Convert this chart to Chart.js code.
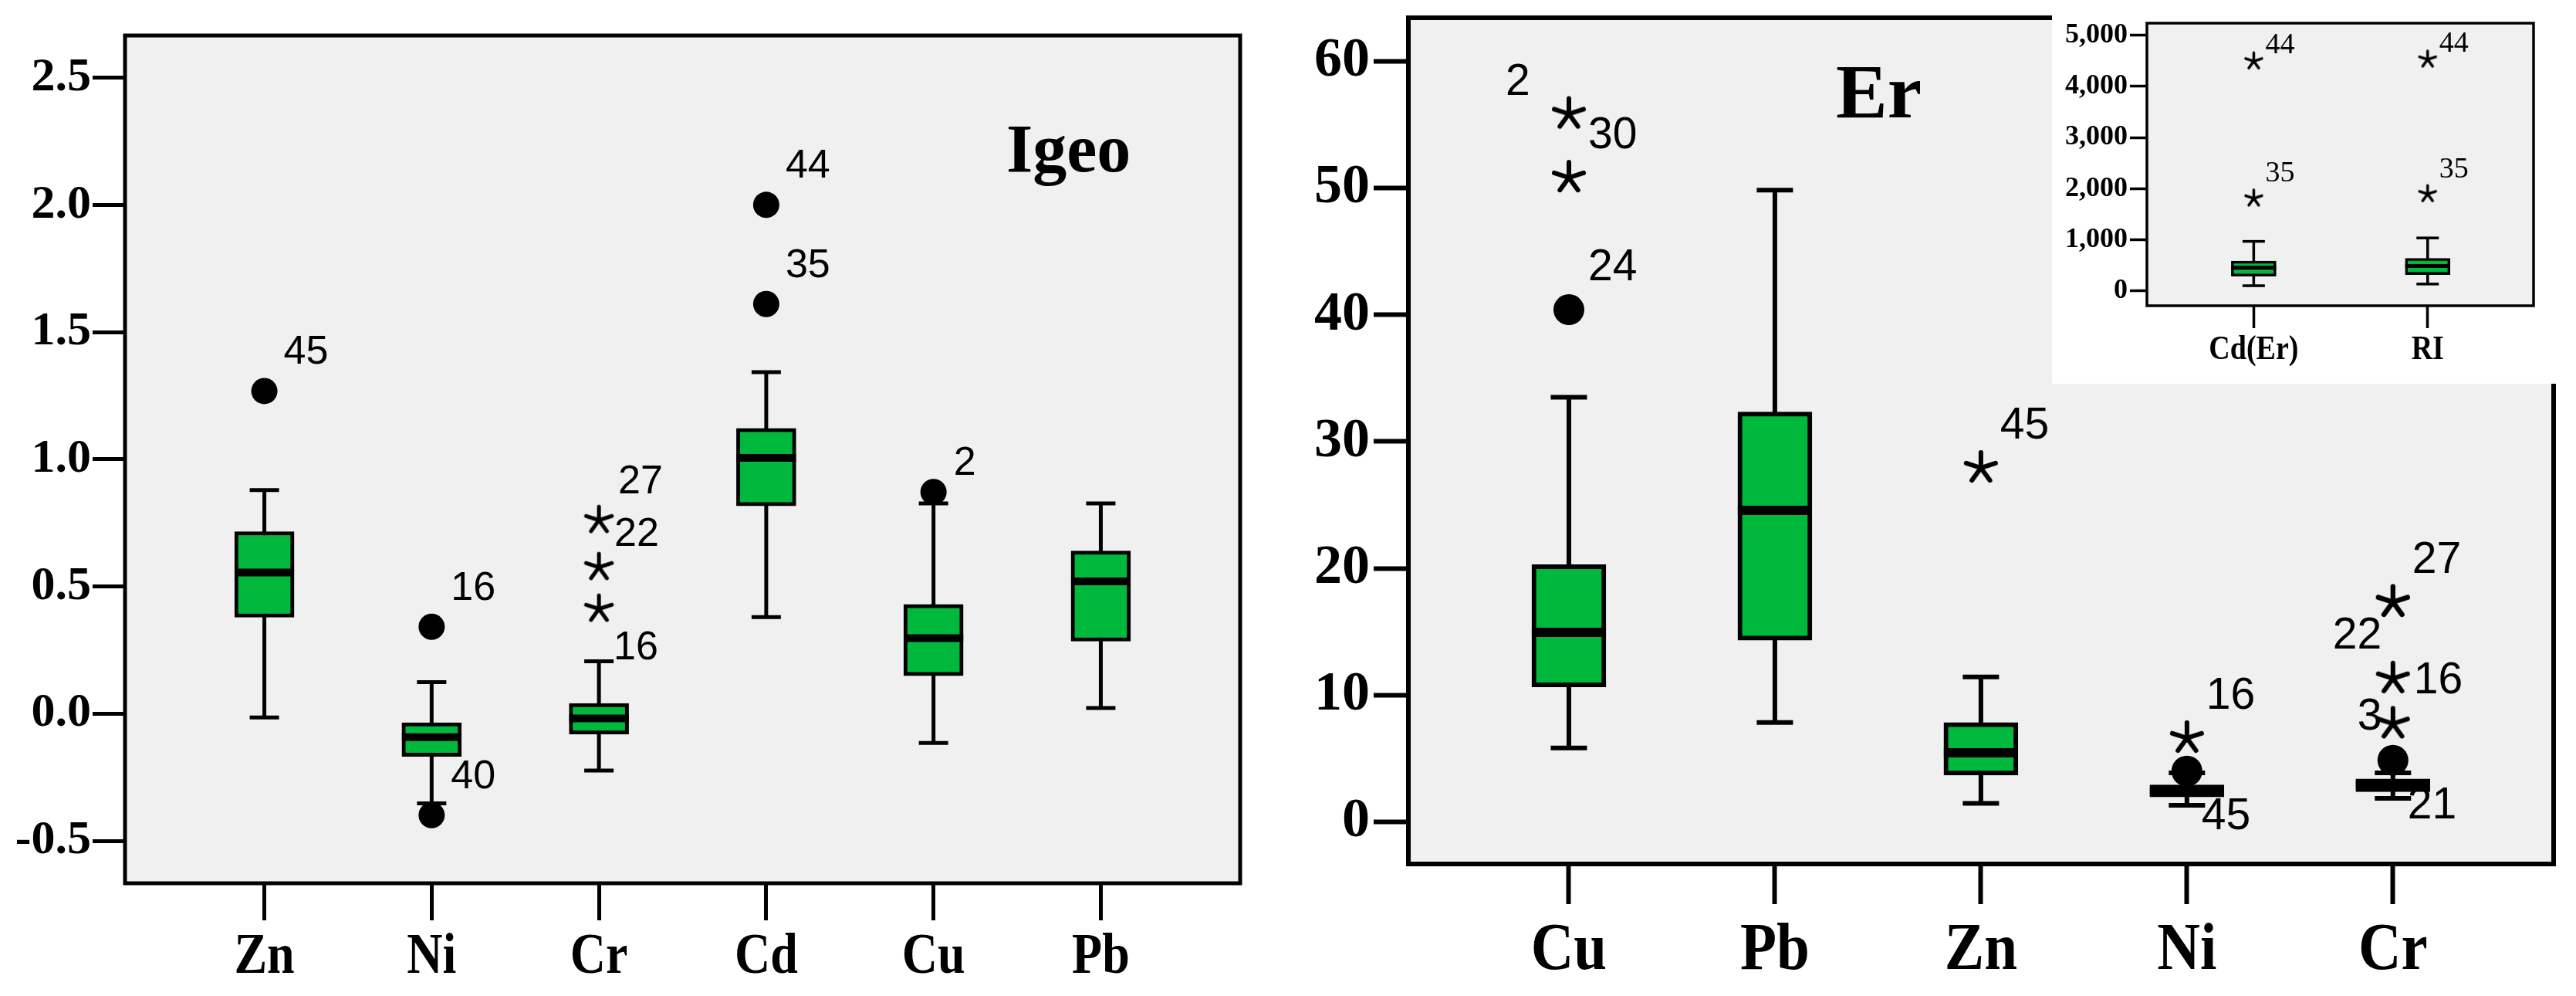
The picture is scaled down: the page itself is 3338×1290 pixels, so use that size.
<!DOCTYPE html>
<html>
<head>
<meta charset="utf-8">
<title>Igeo and Er box plots</title>
<script src="https://cdn.jsdelivr.net/npm/chart.js@4.4.1/dist/chart.umd.min.js"></script>
<style>
  html, body { margin: 0; padding: 0; background: #fff; }
  body { width: 3338px; height: 1290px; position: relative; overflow: hidden; }
  .panel { position: absolute; top: 0; }
  #igeoBox { left: 0; width: 1650px; height: 1290px; }
  #erBox { left: 1650px; width: 1688px; height: 1290px; }
  #insetBox { left: 2659px; width: 679px; height: 497px; background: #fff; }
</style>
</head>
<body>
<div class="panel" id="igeoBox"><canvas id="igeoChart"></canvas></div>
<div class="panel" id="erBox"><canvas id="erChart"></canvas></div>
<div class="panel" id="insetBox"><canvas id="insetChart"></canvas></div>
<script>
// ---- Igeo (left panel) ----
const igeoCats = ['Zn', 'Ni', 'Cr', 'Cd', 'Cu', 'Pb'];
const igeoMin = [-0.015, -0.353, -0.224, 0.380, -0.115, 0.022];
const igeoQ1 = [0.379, -0.168, -0.081, 0.817, 0.149, 0.285];
const igeoMedian = [0.555, -0.092, -0.019, 1.006, 0.297, 0.520];
const igeoQ3 = [0.716, -0.036, 0.040, 1.122, 0.430, 0.640];
const igeoMax = [0.879, 0.124, 0.206, 1.343, 0.827, 0.827];
const igeoCircles = [
  { cat: 'Zn', value: 1.269, id: '45' },
  { cat: 'Ni', value: 0.342, id: '16' },
  { cat: 'Ni', value: -0.399, id: '40' },
  { cat: 'Cd', value: 2.001, id: '44' },
  { cat: 'Cd', value: 1.611, id: '35' },
  { cat: 'Cu', value: 0.872, id: '2' }
];
const igeoStars = [
  { cat: 'Cr', value: 0.761, id: '27' },
  { cat: 'Cr', value: 0.576, id: '22' },
  { cat: 'Cr', value: 0.412, id: '16' }
];
const igeoTicks = [-0.5, 0, 0.5, 1.0, 1.5, 2.0, 2.5];
const igeoLimits = [-0.667, 2.667];

// ---- Er (right panel) ----
const erCats = ['Cu', 'Pb', 'Zn', 'Ni', 'Cr'];
const erMin = [5.82, 7.83, 1.44, 1.29, 1.84];
const erQ1 = [10.63, 14.33, 3.68, 1.95, 2.36];
const erMedian = [14.95, 24.58, 5.44, 2.40, 2.90];
const erQ3 = [20.29, 32.34, 7.82, 2.90, 3.38];
const erMax = [33.5, 49.85, 11.42, 3.85, 3.85];
const erCircles = [
  { cat: 'Cu', value: 40.42, id: '24' },
  { cat: 'Ni', value: 3.99, id: '45' },
  { cat: 'Cr', value: 4.85, id: '21' }
];
const erStars = [
  { cat: 'Cu', value: 55.87, id: '2' },
  { cat: 'Cu', value: 50.84, id: '30' },
  { cat: 'Zn', value: 27.93, id: '45' },
  { cat: 'Ni', value: 6.6, id: '16' },
  { cat: 'Cr', value: 17.34, id: '27' },
  { cat: 'Cr', value: 17.34, id: '22' },
  { cat: 'Cr', value: 11.3, id: '16' },
  { cat: 'Cr', value: 7.73, id: '3' }
];
const erTicks = [0, 10, 20, 30, 40, 50, 60];
const erLimits = [-3.34, 63.46];

// ---- Cd(Er) and RI (inset) ----
const insetCats = ['Cd(Er)', 'RI'];
const insetMin = [100, 133];
const insetQ1 = [286, 319];
const insetMedian = [452, 485];
const insetQ3 = [583, 636];
const insetMax = [968, 1035];
const insetCircles = [];
const insetStars = [
  { cat: 'Cd(Er)', value: 4495, id: '44' },
  { cat: 'Cd(Er)', value: 1810, id: '35' },
  { cat: 'RI', value: 4529, id: '44' },
  { cat: 'RI', value: 1896, id: '35' }
];
const insetTicks = [0, 1000, 2000, 3000, 4000, 5000];
const insetLimits = [-292, 5239];

const GREEN = '#00b83c';
const PANEL = '#f0f0f0';
const SERIF = '"Liberation Serif", "Times New Roman", serif';
const SANS = '"Liberation Sans", Arial, sans-serif';

Chart.defaults.color = '#000';

// five-armed asterisk like the SPSS extreme-value marker
function makeAsterisk(r, lw) {
  const c = document.createElement('canvas');
  const size = Math.ceil(2 * r + 2 * lw);
  c.width = size;
  c.height = size;
  const g = c.getContext('2d');
  g.strokeStyle = '#000';
  g.lineWidth = lw;
  g.lineCap = 'round';
  g.beginPath();
  for (let k = 0; k < 5; k++) {
    const a = -Math.PI / 2 + k * 2 * Math.PI / 5;
    g.moveTo(size / 2, size / 2);
    g.lineTo(size / 2 + r * Math.cos(a), size / 2 + r * Math.sin(a));
  }
  g.stroke();
  return c;
}

// grey panel, black frame, panel title and the (slightly tall) category labels
const framePlugin = {
  id: 'frame',
  beforeDraw(chart, args, opts) {
    const a = chart.chartArea;
    const ctx = chart.ctx;
    ctx.save();
    ctx.fillStyle = PANEL;
    ctx.fillRect(a.left, a.top, a.right - a.left, a.bottom - a.top);
    ctx.restore();
  },
  afterDraw(chart, args, opts) {
    const a = chart.chartArea;
    const ctx = chart.ctx;
    ctx.save();
    ctx.strokeStyle = '#000';
    ctx.lineWidth = opts.lineWidth;
    ctx.strokeRect(a.left, a.top, a.right - a.left, a.bottom - a.top);
    ctx.fillStyle = '#000';
    ctx.textBaseline = 'alphabetic';
    if (opts.title) {
      ctx.font = 'bold ' + opts.titleSize + 'px ' + SERIF;
      ctx.textAlign = 'left';
      ctx.fillText(opts.title, a.left + opts.titleDx, a.top + opts.titleDy);
    }
    const xs = chart.scales.x;
    ctx.font = 'bold ' + opts.catSize + 'px ' + SERIF;
    ctx.textAlign = 'center';
    xs.ticks.forEach((t, i) => {
      ctx.save();
      ctx.translate(xs.getPixelForValue(t.value), a.bottom + opts.catDy);
      ctx.scale(1, opts.catStretch);
      ctx.fillText(opts.cats[i], 0, 0);
      ctx.restore();
    });
    ctx.restore();
  }
};

const outlierLabels = {
  id: 'outlierLabels',
  afterDatasetsDraw(chart, args, opts) {
    const ctx = chart.ctx;
    ctx.save();
    ctx.font = opts.font;
    ctx.fillStyle = '#000';
    ctx.textAlign = 'left';
    ctx.textBaseline = 'alphabetic';
    chart.data.datasets.forEach((ds, di) => {
      if (!ds.ids) return;
      chart.getDatasetMeta(di).data.forEach((pt, j) => {
        const off = (opts.nudge || {})[ds.cats[j] + ':' + ds.ids[j]] || opts.offset;
        ctx.fillText(ds.ids[j], pt.x + off[0], pt.y + off[1]);
      });
    });
    ctx.restore();
  }
};

Chart.register(framePlugin, outlierLabels);

function makeBoxChart(canvasId, d, s) {
  const idx = c => d.cats.indexOf(c);
  const whiskers = [];
  d.cats.forEach((c, i) => {
    whiskers.push({ x: i, y: d.min[i] }, { x: i, y: d.max[i] }, { x: i, y: null });
  });
  const caps = [];
  d.cats.forEach((c, i) => {
    caps.push({ x: i, y: d.min[i] }, { x: i, y: d.max[i] });
  });
  const star = makeAsterisk(s.starR, s.starLw);

  const datasets = [
    {
      type: 'scatter', order: 1,
      data: d.circles.map(o => ({ x: idx(o.cat), y: o.value })),
      ids: d.circles.map(o => o.id), cats: d.circles.map(o => o.cat),
      pointStyle: 'circle', pointRadius: s.dotR,
      pointBackgroundColor: '#000', pointBorderColor: '#000', pointBorderWidth: 0
    },
    {
      type: 'scatter', order: 2,
      data: d.stars.map(o => ({ x: idx(o.cat), y: o.value })),
      ids: d.stars.map(o => o.id), cats: d.stars.map(o => o.cat),
      pointStyle: star, pointRadius: s.starR
    },
    {
      type: 'scatter', order: 3,
      data: d.cats.map((c, i) => ({ x: i, y: d.median[i] })),
      pointStyle: 'line', pointRadius: s.boxWidth / 2,
      pointBorderColor: '#000', pointBorderWidth: s.medianLw
    },
    {
      type: 'scatter', order: 4,
      data: caps,
      pointStyle: 'line', pointRadius: s.capHalf,
      pointBorderColor: '#000', pointBorderWidth: s.lineW
    },
    {
      type: 'bar', order: 5,
      data: d.cats.map((c, i) => ({ x: i, y: [d.q1[i], d.q3[i]] })),
      backgroundColor: GREEN, borderColor: '#000', borderWidth: s.lineW,
      borderSkipped: false, barThickness: s.boxWidth
    },
    {
      type: 'line', order: 6,
      data: whiskers,
      borderColor: '#000', borderWidth: s.lineW,
      pointRadius: 0, fill: false, spanGaps: false
    }
  ];

  return new Chart(document.getElementById(canvasId), {
    type: 'bar',
    data: { datasets },
    options: {
      responsive: true,
      maintainAspectRatio: false,
      animation: false,
      events: [],
      layout: { autoPadding: false, padding: { left: 0, top: s.padTop, right: s.padRight, bottom: 0 } },
      plugins: {
        legend: { display: false },
        tooltip: { enabled: false },
        frame: {
          lineWidth: s.frameW, title: s.title, titleSize: s.titleSize, titleDx: s.titleDx, titleDy: s.titleDy,
          cats: d.cats, catSize: s.xFont, catDy: s.xDy, catStretch: s.xStretch
        },
        outlierLabels: { font: s.labelFont, offset: s.labelOffset, nudge: s.nudge }
      },
      scales: {
        x: {
          type: 'linear',
          min: s.xRange[0],
          max: s.xRange[1],
          offset: false,
          afterBuildTicks: sc => { sc.ticks = d.cats.map((c, i) => ({ value: i })); },
          afterFit: sc => { sc.height = s.xAxisH; sc.paddingLeft = 0; sc.paddingRight = 0; },
          ticks: { display: false, autoSkip: false },
          grid: { drawOnChartArea: false, offset: false, tickLength: s.xTickLen, tickWidth: s.lineW, tickColor: '#000' },
          border: { display: false }
        },
        y: {
          type: 'linear',
          min: d.limits[0],
          max: d.limits[1],
          afterBuildTicks: sc => { sc.ticks = d.ticks.map(v => ({ value: v })); },
          afterFit: sc => { sc.width = s.yAxisW; sc.paddingTop = 0; sc.paddingBottom = 0; },
          ticks: {
            padding: s.yPad,
            font: { family: SERIF, weight: 'bold', size: s.yFont },
            callback: d.fmt
          },
          grid: { drawOnChartArea: false, tickLength: s.yTickLen, tickWidth: s.lineW, tickColor: '#000' },
          border: { display: false }
        }
      }
    }
  });
}

makeBoxChart('igeoChart', {
  cats: igeoCats, min: igeoMin, q1: igeoQ1, median: igeoMedian, q3: igeoQ3, max: igeoMax,
  circles: igeoCircles, stars: igeoStars, ticks: igeoTicks, limits: igeoLimits,
  fmt: v => v.toFixed(1)
}, {
  padTop: 46, padRight: 43, yAxisW: 162, xAxisH: 146,
  xRange: [-0.833, 5.833],
  boxWidth: 77, lineW: 5, medianLw: 10, capHalf: 19, frameW: 5,
  dotR: 17, starR: 17.5, starLw: 5,
  xFont: 64, xDy: 116, xStretch: 1.14, xTickLen: 48,
  yFont: 62, yTickLen: 42, yPad: 2,
  title: 'Igeo', titleSize: 88, titleDx: 1142, titleDy: 176,
  labelFont: '52px ' + SANS, labelOffset: [25, -35],
  nudge: { 'Cu:2': [26, -22], 'Cr:22': [20, -28], 'Cr:16': [19, 65] }
});

makeBoxChart('erChart', {
  cats: erCats, min: erMin, q1: erQ1, median: erMedian, q3: erQ3, max: erMax,
  circles: erCircles, stars: erStars, ticks: erTicks, limits: erLimits,
  fmt: v => String(v)
}, {
  padTop: 23, padRight: 29, yAxisW: 175, xAxisH: 171,
  xRange: [-0.779, 4.78],
  boxWidth: 96, lineW: 6, medianLw: 12, capHalf: 23.5, frameW: 6,
  dotR: 20, starR: 20, starLw: 6,
  xFont: 77, xDy: 136, xStretch: 1.12, xTickLen: 52,
  yFont: 72, yTickLen: 45, yPad: 5,
  title: 'Er', titleSize: 100, titleDx: 554, titleDy: 129,
  labelFont: '57px ' + SANS, labelOffset: [25, -38],
  nudge: { 'Cu:2': [-82, -25], 'Ni:45': [19, 75], 'Cr:22': [-78, 60], 'Cr:16': [27, 19], 'Cr:3': [-46, 8], 'Cr:21': [19, 75] }
});

makeBoxChart('insetChart', {
  cats: insetCats, min: insetMin, q1: insetQ1, median: insetMedian, q3: insetQ3, max: insetMax,
  circles: insetCircles, stars: insetStars, ticks: insetTicks, limits: insetLimits,
  fmt: v => v.toLocaleString('en-US')
}, {
  padTop: 30, padRight: 55, yAxisW: 123, xAxisH: 101,
  xRange: [-0.614, 1.609],
  boxWidth: 58, lineW: 3.5, medianLw: 5, capHalf: 14.5, frameW: 3.5,
  dotR: 8, starR: 11, starLw: 3.5,
  xFont: 38, xDy: 69, xStretch: 1.15, xTickLen: 29,
  yFont: 36, yTickLen: 22, yPad: 3,
  title: '', titleSize: 0, titleDx: 0, titleDy: 0,
  labelFont: '38px ' + SERIF, labelOffset: [15, -10],
  nudge: { 'Cd(Er):35': [15, -22], 'RI:35': [15, -21] }
});
</script>
</body>
</html>
